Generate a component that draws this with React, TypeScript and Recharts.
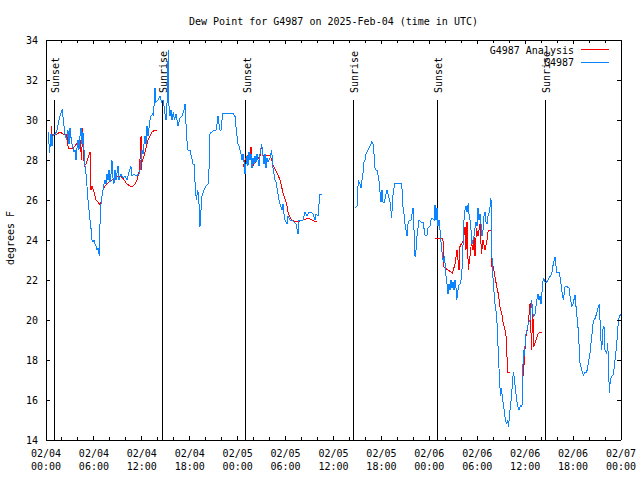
import React from "react";
import { ComposedChart, Line, XAxis, YAxis, ReferenceLine, Legend } from "recharts";

const TITLE = "Dew Point for G4987 on 2025-Feb-04 (time in UTC)";
const Y_TITLE = "degrees F";
const FONT = "'DejaVu Sans Mono', monospace";

// hours since 2025-02-04 00:00 UTC
const X_TICKS = [0, 2, 4, 6, 8, 10, 12, 14, 16, 18, 20, 22, 24, 26, 28, 30, 32, 34, 36, 38, 40, 42, 44, 46, 48, 50, 52, 54, 56, 58, 60, 62, 64, 66, 68, 70, 72];
const X_LABEL_HOURS = [0, 6, 12, 18, 24, 30, 36, 42, 48, 54, 60, 66, 72];
const X_LABEL_DATES = ["02/04", "02/04", "02/04", "02/04", "02/05", "02/05", "02/05", "02/05", "02/06", "02/06", "02/06", "02/06", "02/07"];
const X_LABEL_TIMES = ["00:00", "06:00", "12:00", "18:00", "00:00", "06:00", "12:00", "18:00", "00:00", "06:00", "12:00", "18:00", "00:00"];
const Y_TICKS = [14, 16, 18, 20, 22, 24, 26, 28, 30, 32, 34];

const EVENT_TIMES = [1.03, 14.58, 25.02, 38.47, 49.0, 62.5];
const EVENT_NAMES = ["Sunset", "Sunrise", "Sunset", "Sunrise", "Sunset", "Sunrise"];

const ANALYSIS_NAME = "G4987 Analysis";
const OBS_NAME = "G4987";
const KEY_ORDER = [ANALYSIS_NAME, OBS_NAME];

// [hour, dew point F]; null marks a gap
const ANALYSIS: [number, number | null][] = [
  [0.71, 29.7], [0.79, 29.0], [0.88, 29.3], [1.38, 29.3], [1.75, 29.4], [2.13, 29.3], [2.59, 29.3], [2.79, 28.6],
  [3.01, 28.6], [3.38, 28.6], [3.63, 28.7], [4.01, 28.9], [4.26, 29.0], [4.47, 28.0], [4.57, 29.6], [4.67, 28.3],
  [4.82, 27.7], [5.01, 27.8], [5.26, 28.1], [5.51, 28.4], [5.63, 26.5], [5.76, 26.7], [6.01, 26.4], [6.26, 26.0],
  [6.51, 25.9], [6.76, 25.75], [6.89, 25.9], [7.14, 26.5], [7.39, 26.7], [7.64, 26.8], [7.89, 26.9], [8.26, 27.0],
  [8.64, 27.1], [9.02, 27.2], [9.39, 27.2], [9.77, 27.0], [10.14, 26.8], [10.52, 26.7], [10.89, 26.7], [11.14, 26.8],
  [11.4, 27.0], [11.65, 27.4], [11.77, 28.0], [11.9, 29.2], [11.95, 27.5], [12.02, 27.9], [12.27, 28.2], [12.52, 28.6],
  [12.77, 29.0], [13.02, 29.2], [13.27, 29.4], [13.65, 29.5], [13.94, 29.5],
  [19, null],
  [24.71, 27.67], [24.92, 28.0], [25.13, 28.2], [25.54, 28.3], [25.67, 28.67], [25.8, 28.0], [25.96, 27.75], [26.38, 28.0],
  [26.8, 28.2], [27.01, 28.8], [27.17, 28.2], [27.64, 28.25], [28.05, 28.2], [28.26, 28.0], [28.46, 27.7], [28.89, 27.4],
  [29.3, 27.0], [29.72, 26.3], [30.14, 25.8], [30.34, 25.3], [30.77, 25.0], [31.39, 24.9], [32.22, 25.0], [32.85, 25.1],
  [33.27, 25.0], [33.9, 24.9],
  [42, null],
  [48.71, 24.07], [49.71, 24.07], [49.76, 22.67], [49.96, 22.6], [50.34, 22.5], [50.71, 22.4], [50.9, 22.35], [51.21, 22.8],
  [51.47, 23.5], [51.72, 22.5], [51.84, 23.67], [52.26, 24.0], [52.47, 24.67], [52.59, 23.5], [52.72, 24.9], [52.88, 22.5],
  [53.09, 23.2], [53.28, 23.9], [53.47, 23.5], [53.59, 24.2], [53.72, 23.2], [53.91, 24.6], [54.09, 24.2], [54.35, 24.83],
  [54.53, 23.3], [54.72, 24.0], [54.97, 23.5], [55.22, 24.0], [55.35, 24.4], [55.53, 24.5], [55.72, 24.5], [55.81, 22.67],
  [56.01, 22.67], [56.22, 22.17], [56.44, 21.67], [56.64, 21.3], [56.85, 20.67], [57.06, 20.33], [57.26, 19.83], [57.47, 19.5],
  [57.69, 19.0], [57.76, 17.4], [58.1, 17.4],
  [59, null],
  [59.77, 17.2], [59.92, 18.2], [60.11, 19.2], [60.39, 19.83], [60.61, 20.83], [60.8, 18.5], [60.95, 20.67], [61.05, 18.67],
  [61.23, 18.83], [61.45, 19.1], [61.65, 19.33], [62.07, 19.4],
];

const OBSERVED: [number, number | null][] = [
  [0.29, 29.4], [0.44, 28.35], [0.63, 29.3], [0.75, 28.7], [0.91, 29.3], [1.13, 29.25], [1.38, 29.5], [1.57, 29.9],
  [1.75, 30.2], [2.04, 30.55], [2.19, 29.9], [2.38, 29.3], [2.59, 29.0], [2.75, 29.5], [2.88, 28.8], [3.01, 29.6],
  [3.19, 28.9], [3.38, 28.6], [3.51, 28.4], [3.63, 28.5], [3.76, 28.0], [3.88, 28.6], [4.01, 29.0], [4.13, 28.5],
  [4.26, 29.2], [4.38, 29.6], [4.51, 28.8], [4.63, 29.4], [4.76, 28.5], [4.88, 27.7], [5.01, 27.3], [5.13, 26.7],
  [5.26, 26.0], [5.38, 25.5], [5.51, 25.0], [5.63, 24.6], [5.76, 24.0], [5.89, 23.9], [6.01, 24.0], [6.14, 23.8],
  [6.26, 23.7], [6.39, 23.5], [6.51, 23.6], [6.67, 23.2], [6.76, 24.8], [6.89, 25.8], [7.01, 26.2], [7.14, 26.5],
  [7.26, 26.8], [7.39, 27.0], [7.51, 26.8], [7.64, 27.3], [7.76, 27.0], [7.89, 27.5], [8.01, 26.9], [8.14, 27.3],
  [8.26, 28.0], [8.39, 27.1], [8.51, 26.8], [8.64, 27.5], [8.77, 27.0], [9.02, 27.7], [9.14, 27.0], [9.39, 27.3],
  [9.64, 27.1], [9.89, 27.2], [10.14, 27.0], [10.39, 27.4], [10.64, 27.67], [10.77, 27.2], [11.02, 27.3], [11.27, 27.2],
  [11.65, 27.3], [11.77, 27.5], [11.9, 28.0], [12.02, 28.5], [12.15, 28.3], [12.27, 28.8], [12.4, 29.2], [12.52, 28.8],
  [12.65, 29.7], [12.77, 29.2], [12.9, 29.6], [13.02, 30.0], [13.15, 30.2], [13.34, 30.3], [13.46, 30.2], [13.65, 31.6],
  [13.77, 30.9], [14.02, 31.0], [14.28, 31.2], [14.46, 30.9], [14.65, 31.0], [14.78, 30.7], [14.9, 30.3], [15.03, 30.0],
  [15.15, 30.8], [15.31, 33.5], [15.4, 30.7], [15.53, 30.2], [15.65, 30.5], [15.78, 30.0], [15.94, 30.4], [16.09, 30.0],
  [16.28, 30.3], [16.53, 29.7], [16.78, 30.1], [17.03, 30.2], [17.28, 30.5], [17.41, 30.8], [17.62, 29.1], [17.78, 28.5],
  [18.03, 28.5], [18.41, 27.8], [18.53, 27.8], [18.75, 26.3], [18.85, 26.0], [18.97, 26.5], [19.1, 26.3], [19.22, 25.3],
  [19.28, 24.67], [19.41, 25.5], [19.53, 26.2], [19.78, 26.5], [20.04, 26.7], [20.29, 26.8], [20.41, 27.5], [20.54, 29.33],
  [20.79, 29.4], [21.04, 29.5], [21.29, 29.5], [21.41, 29.8], [21.54, 30.2], [21.66, 29.8], [21.79, 29.5], [21.91, 29.5],
  [22.04, 30.0], [22.16, 30.33], [22.54, 30.33], [23.04, 30.33], [23.42, 30.33], [23.67, 30.17], [23.88, 29.3], [24.04, 28.8],
  [24.17, 28.7], [24.42, 28.3], [24.54, 28.0], [24.67, 28.3], [24.79, 27.9], [24.92, 27.3], [25.04, 27.8], [25.17, 28.2],
  [25.29, 27.7], [25.42, 28.4], [25.54, 28.0], [25.67, 28.3], [25.8, 27.6], [25.92, 28.1], [26.05, 27.8], [26.17, 28.2],
  [26.3, 27.9], [26.42, 28.3], [26.55, 28.0], [26.67, 27.7], [26.8, 28.3], [27.01, 28.8], [27.17, 28.2], [27.3, 27.8],
  [27.42, 28.3], [27.55, 27.6], [27.67, 28.1], [27.8, 27.9], [28.05, 28.1], [28.26, 28.5], [28.42, 27.6], [28.55, 27.3],
  [28.68, 27.0], [28.8, 26.9], [28.93, 26.6], [29.05, 26.3], [29.18, 26.0], [29.3, 25.8], [29.55, 25.5], [29.68, 25.8],
  [29.8, 25.3], [29.93, 25.0], [30.18, 24.8], [30.3, 25.2], [30.55, 25.0], [30.8, 25.0], [31.05, 24.9], [31.31, 24.8],
  [31.56, 24.3], [31.68, 25.0], [31.93, 25.0], [32.18, 25.0], [32.43, 25.4], [32.68, 25.2], [32.93, 25.4], [33.18, 25.4],
  [33.43, 25.3], [33.68, 25.0], [33.81, 25.3], [34.06, 25.2], [34.19, 25.8], [34.31, 26.3], [34.56, 26.3],
  [36.5, null],
  [38.69, 25.63], [38.94, 25.67], [39.11, 27.0], [39.32, 26.8], [39.44, 26.6], [39.57, 27.0], [39.69, 27.33], [39.82, 27.9],
  [39.95, 28.0], [40.07, 28.3], [40.2, 28.4], [40.32, 28.5], [40.57, 28.7], [40.79, 28.9], [40.95, 28.8], [41.07, 28.3],
  [41.2, 27.6], [41.32, 27.5], [41.45, 27.5], [41.57, 27.25], [41.76, 26.8], [41.82, 26.4], [41.95, 25.9], [42.07, 26.5],
  [42.2, 25.9], [42.39, 25.9], [42.51, 26.2], [42.7, 26.5], [42.83, 26.3], [42.95, 26.1], [43.08, 25.9], [43.29, 25.1],
  [43.39, 26.0], [43.51, 26.5], [43.7, 26.83], [44.08, 26.83], [44.54, 26.83], [44.7, 25.67], [44.83, 25.3], [44.95, 24.8],
  [45.08, 24.5], [45.2, 24.2], [45.33, 24.8], [45.52, 25.0], [45.71, 25.0], [45.96, 25.6], [46.08, 24.5], [46.21, 23.17],
  [46.33, 23.5], [46.46, 24.2], [46.58, 24.6], [46.71, 25.0], [46.96, 24.9], [47.21, 24.9], [47.46, 24.25], [47.71, 24.25],
  [47.83, 24.6], [48.08, 24.7], [48.21, 25.0], [48.33, 25.1], [48.59, 25.0], [48.71, 25.75], [48.84, 25.0], [48.96, 25.6],
  [49.09, 24.7], [49.21, 25.0], [49.34, 24.5], [49.55, 23.5], [49.75, 22.9], [49.9, 23.2], [50.09, 22.17], [50.21, 21.8],
  [50.34, 21.3], [50.46, 21.8], [50.59, 21.5], [50.71, 22.0], [50.84, 21.6], [50.96, 21.9], [51.09, 21.5], [51.21, 22.0],
  [51.34, 21.6], [51.43, 21.0], [51.53, 21.3], [51.65, 21.7], [51.84, 21.8], [51.97, 22.0], [52.09, 22.5], [52.22, 23.8],
  [52.34, 25.0], [52.47, 25.5], [52.59, 25.7], [52.72, 25.4], [52.88, 25.83], [52.97, 25.3], [53.09, 25.0], [53.22, 24.5],
  [53.34, 23.8], [53.47, 24.0], [53.59, 24.2], [53.72, 24.6], [53.84, 24.9], [53.97, 24.7], [54.09, 25.6], [54.22, 25.0],
  [54.35, 25.3], [54.47, 24.8], [54.6, 24.2], [54.72, 24.5], [54.85, 25.2], [54.97, 25.4], [55.1, 24.9], [55.22, 24.8],
  [55.35, 25.2], [55.53, 25.4], [55.72, 26.1], [55.81, 23.4], [56.01, 21.83], [56.22, 20.8], [56.44, 20.17], [56.64, 18.33],
  [56.79, 17.0], [56.91, 16.2], [57.04, 16.6], [57.16, 16.0], [57.29, 15.8], [57.41, 15.3], [57.54, 15.0], [57.66, 14.8],
  [57.79, 15.0], [57.91, 14.67], [58.1, 15.5], [58.29, 16.2], [58.52, 17.4], [58.67, 17.0], [58.85, 16.3], [59.04, 15.7],
  [59.23, 15.5], [59.42, 15.7], [59.6, 15.67], [59.77, 18.5], [59.92, 18.2], [60.04, 19.2], [60.23, 19.5], [60.39, 19.83],
  [60.61, 20.0], [60.82, 21.0], [60.92, 20.4], [61.05, 20.2], [61.23, 20.3], [61.45, 21.0], [61.61, 21.3], [61.73, 21.0],
  [61.86, 21.2], [61.98, 20.8], [62.2, 21.83], [62.3, 22.1], [62.48, 21.9], [62.7, 21.9], [62.86, 22.0], [63.11, 22.17],
  [63.32, 22.3], [63.53, 22.83], [63.74, 23.17], [63.95, 22.4], [64.24, 22.4], [64.43, 22.0], [64.58, 21.5], [64.78, 21.0],
  [64.99, 21.67], [65.24, 21.67], [65.49, 21.6], [65.62, 21.2], [65.83, 20.7], [65.99, 20.8], [66.24, 21.25], [66.45, 20.3],
  [66.65, 19.5], [66.87, 17.83], [67.08, 17.5], [67.28, 17.25], [67.49, 17.4], [67.71, 17.4], [67.91, 17.83], [68.12, 18.33],
  [68.33, 19.17], [68.53, 19.92], [68.75, 20.08], [68.96, 20.33], [69.16, 20.67], [69.29, 20.75], [69.46, 19.17], [69.59, 18.5],
  [69.71, 19.5], [69.87, 19.67], [70.0, 18.5], [70.21, 18.3], [70.34, 18.83], [70.46, 17.5], [70.54, 16.33], [70.66, 17.0],
  [70.84, 17.2], [71.04, 17.25], [71.25, 18.0], [71.47, 18.8], [71.66, 19.9], [71.79, 20.17], [72.0, 20.3],
];

const toRows = (pts: [number, number | null][]) => pts.map(([t, v]) => ({ t, v }));

const BottomTick = (props: any) => {
  const { x, y, payload } = props;
  const i = X_LABEL_HOURS.indexOf(payload.value);
  return (
    <g>
      <line x1={x} y1={y} x2={x} y2={y - (i >= 0 ? 4 : 3)} stroke="#000" />
      {i >= 0 && (
        <>
          <text x={x} y={y + 17} textAnchor="middle" fontSize={10} fill="#000">{X_LABEL_DATES[i]}</text>
          <text x={x} y={y + 30} textAnchor="middle" fontSize={10} fill="#000">{X_LABEL_TIMES[i]}</text>
        </>
      )}
    </g>
  );
};

const TopTick = (props: any) => {
  const { x, y, payload } = props;
  const major = X_LABEL_HOURS.includes(payload.value);
  return <line x1={x} y1={y} x2={x} y2={y + (major ? 4 : 3)} stroke="#000" />;
};

const LeftTick = (props: any) => {
  const { x, y, payload } = props;
  return (
    <g>
      <line x1={x} y1={y} x2={x + 4} y2={y} stroke="#000" />
      <text x={x - 8} y={y + 3.5} textAnchor="end" fontSize={10} fill="#000">{payload.value}</text>
    </g>
  );
};

const RightTick = (props: any) => {
  const { x, y } = props;
  return <line x1={x} y1={y} x2={x - 4} y2={y} stroke="#000" />;
};

const EventLabel = (name: string) => (props: any) => {
  const vb = props.viewBox || {};
  const x = vb.x + 5;
  const y = vb.y - 7;
  return (
    <text x={x} y={y} transform={`rotate(-90 ${x} ${y})`} fontSize={10} fill="#000" textAnchor="start">
      {name}
    </text>
  );
};

// gnuplot key: entries in plotting order
const KeyBox = ({ payload }: any) => {
  const rows = KEY_ORDER.map((name) => (payload || []).find((p: any) => p.value === name)).filter(Boolean);
  return (
    <svg width={640} height={80} style={{ display: "block", fontFamily: FONT }}>
      {rows.map((p: any, i: number) => (
        <g key={p.value}>
          <text x={574} y={53.5 + i * 12.5} textAnchor="end" fontSize={10} fill="#000">{p.value}</text>
          <line x1={581} x2={609} y1={49.5 + i * 12.5} y2={49.5 + i * 12.5} stroke={p.color} />
        </g>
      ))}
    </svg>
  );
};

export default function App() {
  return (
    <div style={{ position: "absolute", left: 0, top: 0, fontFamily: FONT, background: "#fff", shapeRendering: "crispEdges" }}>
      <ComposedChart width={640} height={480} margin={{ top: 0, right: 0, bottom: 0, left: 0 }}>
        <XAxis
          xAxisId="b"
          type="number"
          dataKey="t"
          domain={[0, 72]}
          allowDataOverflow
          ticks={X_TICKS}
          interval={0}
          height={40}
          tickSize={0}
          tickMargin={0}
          tickLine={false}
          axisLine={{ stroke: "#000" }}
          tick={(p: any) => <BottomTick {...p} />}
        />
        <XAxis
          xAxisId="t"
          orientation="top"
          type="number"
          dataKey="t"
          domain={[0, 72]}
          allowDataOverflow
          ticks={X_TICKS}
          interval={0}
          height={40}
          tickSize={0}
          tickMargin={0}
          tickLine={false}
          axisLine={{ stroke: "#000" }}
          tick={(p: any) => <TopTick {...p} />}
          label={{
            content: (p: any) => {
              const vb = p.viewBox || {};
              return (
                <text x={vb.x + vb.width / 2} y={25} textAnchor="middle" fontSize={10} fill="#000">
                  {TITLE}
                </text>
              );
            },
          }}
        />
        <YAxis
          yAxisId="l"
          type="number"
          domain={[14, 34]}
          allowDataOverflow
          ticks={Y_TICKS}
          interval={0}
          width={46}
          tickSize={0}
          tickMargin={0}
          tickLine={false}
          axisLine={{ stroke: "#000" }}
          tick={(p: any) => <LeftTick {...p} />}
          label={{
            content: (p: any) => {
              const vb = p.viewBox || {};
              const cy = vb.y + vb.height / 2 - 2;
              return (
                <text x={14} y={cy} transform={`rotate(-90 14 ${cy})`} textAnchor="middle" fontSize={10} fill="#000">
                  {Y_TITLE}
                </text>
              );
            },
          }}
        />
        <YAxis
          yAxisId="r"
          orientation="right"
          type="number"
          domain={[14, 34]}
          allowDataOverflow
          ticks={Y_TICKS}
          interval={0}
          width={19}
          tickSize={0}
          tickMargin={0}
          tickLine={false}
          axisLine={{ stroke: "#000" }}
          tick={(p: any) => <RightTick {...p} />}
        />
        {EVENT_TIMES.map((t, i) => (
          <ReferenceLine
            key={`ev${i}`}
            xAxisId="b"
            yAxisId="l"
            segment={[{ x: t, y: 14 }, { x: t, y: 31 }]}
            stroke="#000"
            strokeWidth={1}
            label={{ content: EventLabel(EVENT_NAMES[i]) }}
          />
        ))}
        <Line
          xAxisId="b"
          yAxisId="l"
          name={ANALYSIS_NAME}
          data={toRows(ANALYSIS)}
          dataKey="v"
          type="linear"
          stroke="#ff0000"
          strokeWidth={1}
          dot={false}
          activeDot={false}
          connectNulls={false}
          isAnimationActive={false}
        />
        <Line
          xAxisId="b"
          yAxisId="l"
          name={OBS_NAME}
          data={toRows(OBSERVED)}
          dataKey="v"
          type="linear"
          stroke="#0a84ff"
          strokeWidth={1}
          dot={false}
          activeDot={false}
          connectNulls={false}
          isAnimationActive={false}
        />
        <Legend
          layout="vertical"
          align="center"
          verticalAlign="middle"
          content={(p: any) => <KeyBox {...p} />}
          wrapperStyle={{ left: 0, top: 0, width: 640, height: 80, pointerEvents: "none" }}
        />
      </ComposedChart>
    </div>
  );
}
